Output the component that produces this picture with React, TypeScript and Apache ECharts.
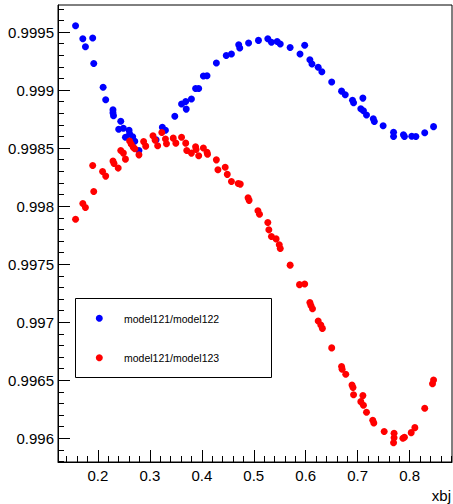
import React, { useEffect, useRef } from "react";
import * as echarts from "echarts";

// ---- Data ----
const SERIES_NAMES = ["model121/model122", "model121/model123"];

const blueX = [
  0.157, 0.171, 0.176, 0.19, 0.192, 0.21, 0.215, 0.229, 0.229, 0.23,
  0.24, 0.244, 0.249, 0.253, 0.26, 0.261, 0.267, 0.271, 0.279, 0.312,
  0.324, 0.33, 0.348, 0.361, 0.369, 0.37, 0.38, 0.388, 0.394, 0.403,
  0.41, 0.428, 0.447, 0.457, 0.471, 0.473, 0.49, 0.509, 0.527, 0.534,
  0.545, 0.551, 0.57, 0.589, 0.598, 0.608, 0.612, 0.624, 0.631, 0.65,
  0.669, 0.676, 0.69, 0.692, 0.706, 0.71, 0.711, 0.717, 0.73, 0.732,
  0.749, 0.769, 0.769, 0.788, 0.79, 0.804, 0.812, 0.829, 0.846,
];
const blueY = [
  0.999554, 0.999442, 0.999373, 0.999448, 0.999229, 0.999024, 0.998916, 0.99883, 0.998804, 0.998779,
  0.998662, 0.998731, 0.998671, 0.998593, 0.998654, 0.998623, 0.998597, 0.998559, 0.998479, 0.998572,
  0.998679, 0.998654, 0.998774, 0.99888, 0.998901, 0.998836, 0.998923, 0.999014, 0.999014, 0.999122,
  0.999123, 0.999233, 0.999298, 0.999311, 0.999391, 0.999362, 0.999405, 0.999428, 0.999442, 0.999412,
  0.999419, 0.999397, 0.999367, 0.999311, 0.999386, 0.999261, 0.999224, 0.999197, 0.999158, 0.999069,
  0.998991, 0.99896, 0.998912, 0.998891, 0.998839, 0.998931, 0.998822, 0.998785, 0.998753, 0.998729,
  0.998692, 0.998636, 0.9986, 0.998615, 0.9986, 0.998602, 0.9986, 0.998632, 0.998685,
];

const redX = [
  0.157, 0.171, 0.176, 0.19, 0.192, 0.209, 0.215, 0.229, 0.231, 0.239,
  0.244, 0.249, 0.253, 0.261, 0.264, 0.268, 0.271, 0.279, 0.288, 0.292,
  0.306, 0.31, 0.315, 0.323, 0.33, 0.332, 0.345, 0.35, 0.361, 0.369,
  0.371, 0.38, 0.388, 0.389, 0.394, 0.403, 0.41, 0.411, 0.428, 0.431,
  0.445, 0.449, 0.457, 0.47, 0.474, 0.489, 0.491, 0.508, 0.511, 0.527,
  0.529, 0.534, 0.543, 0.549, 0.551, 0.57, 0.588, 0.598, 0.608, 0.61,
  0.613, 0.624, 0.629, 0.632, 0.65, 0.669, 0.67, 0.677, 0.689, 0.691,
  0.692, 0.71, 0.706, 0.711, 0.717, 0.729, 0.731, 0.751, 0.77, 0.77,
  0.769, 0.787, 0.79, 0.803, 0.81, 0.829, 0.844, 0.846,
];
const redY = [
  0.997888, 0.998023, 0.997988, 0.99835, 0.998126, 0.998298, 0.998259, 0.998389, 0.998367, 0.998328,
  0.998479, 0.998457, 0.998405, 0.998561, 0.998535, 0.998507, 0.998494, 0.998442, 0.998556, 0.998517,
  0.998606, 0.998569, 0.99852, 0.998635, 0.998578, 0.998537, 0.998586, 0.998543, 0.998593, 0.998543,
  0.998479, 0.998457, 0.998511, 0.998488, 0.998434, 0.998501, 0.998464, 0.998447, 0.998399, 0.998313,
  0.998335, 0.998274, 0.998212, 0.998195, 0.99819, 0.998072, 0.99805, 0.997961, 0.997931, 0.997859,
  0.997796, 0.997738, 0.997718, 0.997667, 0.997636, 0.997492, 0.997324, 0.99733, 0.997169, 0.997145,
  0.997117, 0.997011, 0.996977, 0.996947, 0.996779, 0.996618, 0.996596, 0.996552, 0.99646, 0.996438,
  0.996376, 0.996368, 0.996316, 0.996285, 0.996224, 0.996155, 0.996132, 0.996059, 0.996043, 0.996005,
  0.995962, 0.996, 0.996009, 0.996049, 0.996092, 0.996259, 0.99647, 0.996503,
];

const X_MAJOR = [0.2, 0.3, 0.4, 0.5, 0.6, 0.7, 0.8];
const X_MINOR = [
  0.14, 0.16, 0.18, 0.22, 0.24, 0.26, 0.28, 0.32, 0.34, 0.36, 0.38,
  0.42, 0.44, 0.46, 0.48, 0.52, 0.54, 0.56, 0.58, 0.62, 0.64, 0.66, 0.68,
  0.72, 0.74, 0.76, 0.78, 0.82, 0.84, 0.86, 0.88,
];
const Y_MAJOR = [0.996, 0.9965, 0.997, 0.9975, 0.998, 0.9985, 0.999, 0.9995];
const Y_MINOR = [
  0.9958, 0.9959, 0.9961, 0.9962, 0.9963, 0.9964, 0.9966, 0.9967, 0.9968, 0.9969,
  0.9971, 0.9972, 0.9973, 0.9974, 0.9976, 0.9977, 0.9978, 0.9979,
  0.9981, 0.9982, 0.9983, 0.9984, 0.9986, 0.9987, 0.9988, 0.9989,
  0.9991, 0.9992, 0.9993, 0.9994, 0.9996, 0.9997,
];
const X_TITLE = "xbj";

const X_MIN = 0.1232;
const X_MAX = 0.8815;
const Y_MIN = 0.995796;
const Y_MAX = 0.999733;

const zip = (xs: number[], ys: number[]) => xs.map((x, i) => [x, ys[i]]);

const FONT = "'Liberation Sans', Arial, Helvetica, sans-serif";

export default function App() {
  const ref = useRef<HTMLDivElement>(null);

  useEffect(() => {
    if (!ref.current) return;
    const chart = echarts.init(ref.current, undefined, { renderer: "svg" });

    const axisBase = {
      type: "value" as const,
      splitLine: { show: false },
    };

    chart.setOption({
      animation: false,
      backgroundColor: "#fff",
      grid: {
        left: 58,
        right: 1,
        top: 5,
        bottom: 42,
        show: true,
        borderColor: "#000",
        borderWidth: 1,
        backgroundColor: "transparent",
      },
      xAxis: [
        {
          ...axisBase,
          min: X_MIN,
          max: X_MAX,
          position: "bottom",
          axisLine: { show: true, lineStyle: { color: "#000", width: 1 } },
          axisTick: {
            show: true,
            inside: true,
            length: 12,
            customValues: X_MAJOR,
            lineStyle: { color: "#000", width: 1 },
          },
          axisLabel: {
            show: true,
            customValues: X_MAJOR,
            formatter: (v: number) => String(v),
            color: "#000",
            fontSize: 15,
            fontFamily: FONT,
            margin: 6,
          },
        },
        {
          ...axisBase,
          min: X_MIN,
          max: X_MAX,
          position: "bottom",
          axisLine: { show: false },
          axisTick: {
            show: true,
            inside: true,
            length: 6,
            customValues: X_MINOR,
            lineStyle: { color: "#000", width: 1 },
          },
          axisLabel: { show: false },
        },
      ],
      yAxis: [
        {
          ...axisBase,
          min: Y_MIN,
          max: Y_MAX,
          position: "left",
          axisLine: { show: true, lineStyle: { color: "#000", width: 1 } },
          axisTick: {
            show: true,
            inside: true,
            length: 12,
            customValues: Y_MAJOR,
            lineStyle: { color: "#000", width: 1 },
          },
          axisLabel: {
            show: true,
            customValues: Y_MAJOR,
            formatter: (v: number) => String(v),
            color: "#000",
            fontSize: 15,
            fontFamily: FONT,
            margin: 4,
          },
        },
        {
          ...axisBase,
          min: Y_MIN,
          max: Y_MAX,
          position: "left",
          axisLine: { show: false },
          axisTick: {
            show: true,
            inside: true,
            length: 6,
            customValues: Y_MINOR,
            lineStyle: { color: "#000", width: 1 },
          },
          axisLabel: { show: false },
        },
      ],
      series: [
        {
          name: SERIES_NAMES[0],
          type: "scatter",
          xAxisIndex: 0,
          yAxisIndex: 0,
          symbol: "circle",
          symbolSize: 7,
          itemStyle: { color: "#0000ff", opacity: 1 },
          data: zip(blueX, blueY),
        },
        {
          name: SERIES_NAMES[1],
          type: "scatter",
          xAxisIndex: 0,
          yAxisIndex: 0,
          symbol: "circle",
          symbolSize: 7,
          itemStyle: { color: "#ff0000", opacity: 1 },
          data: zip(redX, redY),
        },
      ],
      graphic: [
        {
          type: "rect",
          shape: { x: 75.5, y: 298.5, width: 196, height: 79 },
          style: { fill: "#fff", stroke: "#000", lineWidth: 1 },
          z: 100,
        },
        {
          type: "circle",
          shape: { cx: 99.3, cy: 318.3, r: 3.5 },
          style: { fill: "#0000ff" },
          z: 101,
        },
        {
          type: "text",
          x: 124,
          y: 318.5,
          style: {
            text: SERIES_NAMES[0],
            fill: "#000",
            font: `10.5px ${FONT}`,
            verticalAlign: "middle",
            align: "left",
          },
          z: 101,
        },
        {
          type: "circle",
          shape: { cx: 99.3, cy: 357.7, r: 3.5 },
          style: { fill: "#ff0000" },
          z: 101,
        },
        {
          type: "text",
          x: 124,
          y: 357.9,
          style: {
            text: SERIES_NAMES[1],
            fill: "#000",
            font: `10.5px ${FONT}`,
            verticalAlign: "middle",
            align: "left",
          },
          z: 101,
        },
        {
          type: "text",
          x: 451,
          y: 495,
          style: {
            text: X_TITLE,
            fill: "#000",
            font: `15px ${FONT}`,
            align: "right",
            verticalAlign: "middle",
          },
          z: 101,
        },
      ],
    });

    return () => chart.dispose();
  }, []);

  return (
    <div
      ref={ref}
      style={{ position: "absolute", left: 0, top: 0, width: 453, height: 504 }}
    />
  );
}
